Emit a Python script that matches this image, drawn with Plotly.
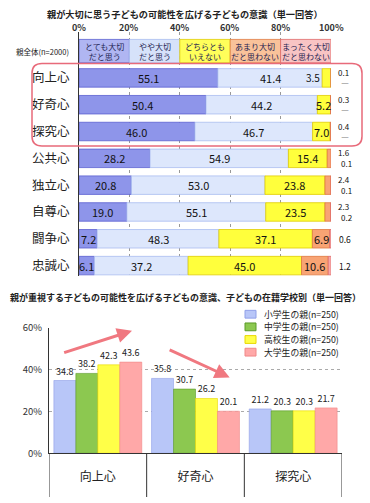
import plotly.graph_objects as go

W, H = 370, 503
FONT = "Noto Sans CJK JP"

# ---------------- data ----------------
title_top = "親が大切に思う子どもの可能性を広げる子どもの意識（単一回答）"
title_bottom = "親が重視する子どもの可能性を広げる子どもの意識、子どもの在籍学校別（単一回答）"
base_label = "親全体(n=2000)"
items = ["向上心", "好奇心", "探究心", "公共心", "独立心", "自尊心", "闘争心", "忠誠心"]
answer_cats = ["とても大切<br>だと思う", "やや大切<br>だと思う", "どちらとも<br>いえない",
               "あまり大切<br>だと思わない", "まったく大切<br>だと思わない"]
very = [55.1, 50.4, 46.0, 28.2, 20.8, 19.0, 7.2, 6.1]
some = [41.4, 44.2, 46.7, 54.9, 53.0, 55.1, 48.3, 37.2]
neither = [3.5, 5.2, 7.0, 15.4, 23.8, 23.5, 37.1, 45.0]
notmuch = [0.1, 0.3, 0.4, 1.6, 2.4, 2.3, 6.9, 10.6]
notatall = [0.0, 0.0, 0.0, 0.1, 0.1, 0.2, 0.6, 1.2]
header_share = [20, 20, 20, 20, 20]
pct_ticks = [0, 20, 40, 60, 80, 100]

groups = ["向上心", "好奇心", "探究心"]
levels = ["小学生の親(n=250)", "中学生の親(n=250)", "高校生の親(n=250)", "大学生の親(n=250)"]
elem = [34.8, 35.8, 21.2]
junior = [38.2, 30.7, 20.3]
high = [42.3, 26.2, 20.3]
univ = [43.6, 20.1, 21.7]
y2_ticks = [0, 20, 40, 60]

# ---------------- styles ----------------
seg_fill = ["#8e95ea", "#dde7fc", "#ffff3c", "#f8a474", "#f6a8a8"]
seg_line = ["#5a60d0", "#a9bdf0", "#e0cc00", "#e07840", "#e06868"]
head_fill = ["#b0b6f2", "#d6e2fa", "#ffff5a", "#f9c29a", "#f8c4c4"]
lvl_fill = ["#b8c6f8", "#8cc850", "#ffff48", "#ffa8a8"]
lvl_line = ["#90a0e8", "#5a9a28", "#e8d800", "#f08888"]


def px(x):
    return x / W


def py(y):
    return 1 - y / H


fig = go.Figure()
ann = []

# ---- top chart: header boxes ----
hbase = 0
for i, c in enumerate(answer_cats):
    fig.add_trace(go.Bar(
        x=[header_share[i]], y=[-1], base=[hbase], orientation="h", width=0.87,
        offsetgroup="top", marker=dict(color=head_fill[i], line=dict(color=seg_line[i], width=0.8)),
        hoverinfo="skip", showlegend=False, xaxis="x", yaxis="y"))
    ann.append(dict(x=hbase + header_share[i] / 2, y=-1, xref="x", yref="y", text=c, showarrow=False,
                    yanchor="middle", font=dict(size=8, color="#1c1c50", family=FONT)))
    hbase += header_share[i]

# percent labels above the header
for t in pct_ticks:
    ann.append(dict(x=t, y=py(20), xref="x", yref="paper", text=f"<b>{t}%</b>", showarrow=False,
                    yanchor="middle", font=dict(size=9, color="#333", family=FONT)))

# ---- top chart: stacked rows ----
series = [very, some, neither, notmuch, notatall]
rows = list(range(len(items)))
bases = [[0.0] * len(items)]
for s in series[:-1]:
    bases.append([b + v for b, v in zip(bases[-1], s)])
for k, s in enumerate(series):
    fig.add_trace(go.Bar(
        x=s, y=rows, base=bases[k], orientation="h", width=0.69,
        offsetgroup="top", marker=dict(color=seg_fill[k], line=dict(color=seg_line[k], width=0.8)),
        hoverinfo="skip", showlegend=False, xaxis="x", yaxis="y"))

# inside labels
for r in rows:
    for k in range(3):
        v = series[k][r]
        b = bases[k][r]
        if v < 5:
            ann.append(dict(x=b, y=r, xref="x", yref="y", text=f"{v:.1f}", showarrow=False,
                            xanchor="right", yanchor="middle", font=dict(size=10, color="#111", family=FONT)))
        else:
            ann.append(dict(x=b + v / 2, y=r, xref="x", yref="y", text=f"{v:.1f}", showarrow=False,
                            yanchor="middle", font=dict(size=11, color="#111", family=FONT)))
    v = notmuch[r]
    if v >= 5:
        ann.append(dict(x=bases[3][r] + v / 2, y=r, xref="x", yref="y", text=f"{v:.1f}", showarrow=False,
                        yanchor="middle", font=dict(size=11, color="#111", family=FONT)))
        ann.append(dict(x=px(337), y=r, xref="paper", yref="y", text=f"{notatall[r]:.1f}", showarrow=False,
                        xanchor="left", yanchor="middle", font=dict(size=8.5, color="#111", family=FONT)))
    else:
        lower = f"{notatall[r]:.1f}" if notatall[r] > 0 else "―"
        ann.append(dict(x=px(336), y=r, xref="paper", yref="y", text=f"{v:.1f}", showarrow=False,
                        xanchor="left", yanchor="middle", yshift=5.5,
                        font=dict(size=8, color="#111", family=FONT)))
        ann.append(dict(x=px(339), y=r, xref="paper", yref="y", text=lower, showarrow=False,
                        xanchor="left", yanchor="middle", yshift=-5.5,
                        font=dict(size=8, color="#111", family=FONT)))

ann.append(dict(x=px(71), y=-1, xref="paper", yref="y", text=base_label, showarrow=False,
                xanchor="right", yanchor="middle", font=dict(size=7.5, color="#222", family=FONT)))
ann.append(dict(x=0.5, y=py(6), xref="paper", yref="paper", text="<b>" + title_top + "</b>",
                showarrow=False, yanchor="middle", font=dict(size=9.2, color="#222", family=FONT)))
ann.append(dict(x=0.5, y=py(298), xref="paper", yref="paper", text="<b>" + title_bottom + "</b>",
                showarrow=False, yanchor="middle", font=dict(size=9.0, color="#222", family=FONT)))

# ---- bottom chart ----
lvl_vals = [elem, junior, high, univ]
for k, name in enumerate(levels):
    fig.add_trace(go.Bar(
        x=groups, y=lvl_vals[k], name=name, offsetgroup=f"g{k}",
        marker=dict(color=lvl_fill[k], line=dict(color=lvl_line[k], width=0.6)),
        text=[f"{v:.1f}" for v in lvl_vals[k]], textposition="outside",
        textfont=dict(size=9, color="#222", family=FONT), cliponaxis=False,
        hoverinfo="skip", showlegend=False, xaxis="x2", yaxis="y2"))

# manual legend
leg_y = [315, 328, 341, 354]
shapes = []
shapes.append(dict(type="rect", xref="paper", yref="paper", x0=px(242), x1=px(350),
                   y0=py(309), y1=py(360), fillcolor="white", line=dict(width=0), layer="above"))
for k, name in enumerate(levels):
    shapes.append(dict(type="rect", xref="paper", yref="paper", x0=px(245), x1=px(256),
                       y0=py(leg_y[k] + 4), y1=py(leg_y[k] - 4), fillcolor=lvl_fill[k],
                       line=dict(color=lvl_line[k], width=1), layer="above"))
    ann.append(dict(x=px(262), y=py(leg_y[k]), xref="paper", yref="paper", text=name, showarrow=False,
                    xanchor="left", yanchor="middle", font=dict(size=8.8, color="#222", family=FONT)))

# category separators below the axis
for xv in [-0.5, 0.5, 1.5, 2.5]:
    shapes.append(dict(type="line", xref="x2", yref="paper", x0=xv, x1=xv, y0=0, y1=py(458),
                       line=dict(color="#333", width=1)))

# highlight rounded rectangle around top three rows
x0, x1, y0, y1, r = 32, 362, 57, 142, 10
path = (f"M {px(x0 + r)} {py(y0)} L {px(x1 - r)} {py(y0)} Q {px(x1)} {py(y0)} {px(x1)} {py(y0 + r)} "
        f"L {px(x1)} {py(y1 - r)} Q {px(x1)} {py(y1)} {px(x1 - r)} {py(y1)} "
        f"L {px(x0 + r)} {py(y1)} Q {px(x0)} {py(y1)} {px(x0)} {py(y1 - r)} "
        f"L {px(x0)} {py(y0 + r)} Q {px(x0)} {py(y0)} {px(x0 + r)} {py(y0)} Z")
shapes.append(dict(type="path", xref="paper", yref="paper", path=path,
                   line=dict(color="#e86a7a", width=1.5), layer="above"))

# trend arrows
ann.append(dict(x=0.35, y=58.6, ax=-0.36, ay=47.9, xref="x2", yref="y2", axref="x2", ayref="y2",
                text="", showarrow=True, arrowhead=2, arrowsize=1, arrowwidth=3, arrowcolor="#f07880"))
ann.append(dict(x=1.35, y=36.3, ax=0.72, ay=49.8, xref="x2", yref="y2", axref="x2", ayref="y2",
                text="", showarrow=True, arrowhead=2, arrowsize=1, arrowwidth=3, arrowcolor="#f07880"))

fig.update_layout(
    width=W, height=H, margin=dict(l=0, r=0, t=0, b=0),
    paper_bgcolor="white", plot_bgcolor="white",
    barmode="group", bargap=0.1, bargroupgap=0,
    font=dict(family=FONT, color="#222"),
    showlegend=False,
    xaxis=dict(domain=[px(79), px(331)], range=[0, 100], side="top", tickvals=pct_ticks,
               showticklabels=False, showgrid=True, gridcolor="#999",
               griddash="dot", gridwidth=1, zeroline=False, ticks="", showline=False,
               anchor="y", fixedrange=True),
    yaxis=dict(domain=[py(276), py(25)], range=[7.4, -1.7], tickvals=rows, ticktext=items,
               showgrid=False, zeroline=False, showline=True, linecolor="#333", linewidth=1,
               ticks="outside", ticklen=6, tickcolor="rgba(0,0,0,0)",
               tickfont=dict(size=12.5, color="#222", family=FONT), anchor="x", fixedrange=True),
    xaxis2=dict(domain=[px(49), px(342)], range=[-0.5, 2.5], showgrid=False, showline=True,
                linecolor="#333", linewidth=1, ticks="outside", ticklen=12, tickcolor="rgba(0,0,0,0)",
                tickfont=dict(size=12, color="#222", family=FONT), anchor="y2", fixedrange=True),
    yaxis2=dict(domain=[py(458), py(329)], range=[0, 60], tickvals=y2_ticks,
                ticktext=[f"{t}%" for t in y2_ticks], showgrid=True, gridcolor="#aaa",
                griddash="dot", zeroline=False, showline=True, linecolor="#333", linewidth=1,
                ticks="outside", ticklen=4, tickcolor="rgba(0,0,0,0)",
                tickfont=dict(size=9.5, color="#333", family=FONT), anchor="x2", fixedrange=True),
    shapes=shapes, annotations=ann,
)

fig.write_html("out.html", config={"displayModeBar": False},
               post_script="document.body.style.margin='0';document.body.style.overflow='hidden';")
